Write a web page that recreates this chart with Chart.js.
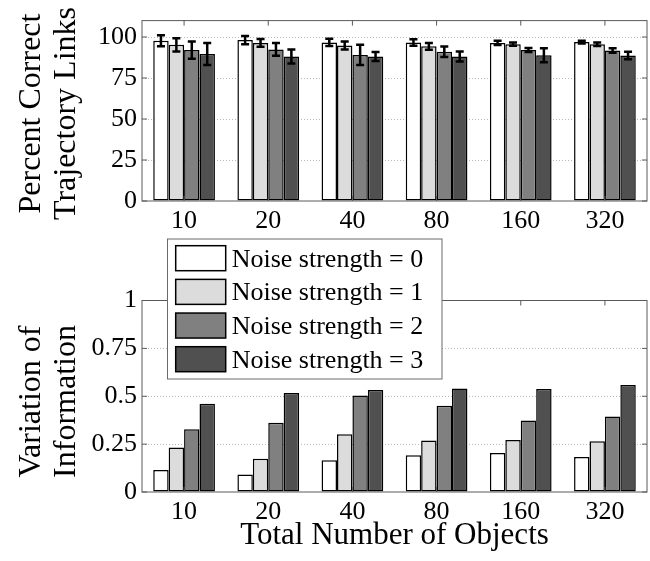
<!DOCTYPE html>
<html>
<head>
<meta charset="utf-8">
<script src="https://cdn.jsdelivr.net/npm/chart.js@4/dist/chart.umd.min.js"></script>
<style>
  html, body { margin: 0; padding: 0; background: #fff; }
  #wrap { position: relative; width: 650px; height: 561px; }
  #topCanvas { position: absolute; left: 0; top: 0; }
  #botCanvas { position: absolute; left: 0; top: 235px; }
</style>
</head>
<body>
<div id="wrap">
  <canvas id="topCanvas" width="650" height="235"></canvas>
  <canvas id="botCanvas" width="650" height="326"></canvas>
</div>
<script>
// ---- data ----
const categories = ['10', '20', '40', '80', '160', '320'];
const seriesLabels = ['Noise strength = 0', 'Noise strength = 1', 'Noise strength = 2', 'Noise strength = 3'];

// Percent correct trajectory links (mean) per noise level
const accuracy0 = [97.7, 98.1, 96.7, 96.7, 96.4, 96.9];
const accuracy1 = [95.2, 96.4, 94.8, 94.3, 95.6, 95.6];
const accuracy2 = [92.0, 92.4, 89.1, 91.0, 92.1, 91.8];
const accuracy3 = [89.7, 88.1, 88.1, 88.1, 88.9, 88.7];
// ... and the half-width of each error bar
const accuracyErr0 = [3.3, 2.5, 2.2, 2.0, 1.3, 0.8];
const accuracyErr1 = [4.0, 2.4, 2.4, 2.1, 1.0, 1.1];
const accuracyErr2 = [5.3, 3.9, 6.2, 3.2, 1.2, 1.4];
const accuracyErr3 = [6.7, 4.3, 2.8, 3.0, 4.3, 2.3];

// Variation of information per noise level
const vi0 = [0.115, 0.091, 0.166, 0.192, 0.204, 0.183];
const vi1 = [0.232, 0.173, 0.302, 0.269, 0.271, 0.265];
const vi2 = [0.328, 0.361, 0.504, 0.450, 0.373, 0.394];
const vi3 = [0.461, 0.517, 0.532, 0.541, 0.538, 0.559];

const accuracyTicks = [0, 25, 50, 75, 100];
const viTicks = [0, 0.25, 0.5, 0.75, 1];

const accuracyTitle = ['Percent Correct', 'Trajectory Links'];
const viTitle = ['Variation of', 'Information'];
const xTitle = 'Total Number of Objects';

// ---- styling ----
const FONT = '"Liberation Serif", "Times New Roman", serif';
const barFill = ['#ffffff', '#dcdcdc', '#808080', '#505050'];
const frameColor = '#5a5a5a';

function makeDatasets(valueSets, errorSets) {
  return valueSets.map((vals, k) => ({
    label: seriesLabels[k],
    data: vals,
    errorBars: errorSets ? errorSets[k] : null,
    backgroundColor: barFill[k],
    borderColor: '#000',
    borderWidth: 1.5,
    borderSkipped: false,
    categoryPercentage: 0.733,
    barPercentage: 1
  }));
}

// box around the plot area with inward tick marks on all four sides
const framePlugin = {
  id: 'frame',
  afterDatasetsDraw(chart) {
    const { ctx, chartArea: a, scales: { x, y } } = chart;
    const len = 5;
    ctx.save();
    ctx.strokeStyle = frameColor;
    ctx.lineWidth = 1;
    ctx.beginPath();
    x.ticks.forEach((t, i) => {
      const px = x.getPixelForTick(i);
      ctx.moveTo(px, a.top); ctx.lineTo(px, a.top + len);
      ctx.moveTo(px, a.bottom); ctx.lineTo(px, a.bottom - len);
    });
    y.ticks.forEach(t => {
      const py = y.getPixelForValue(t.value);
      ctx.moveTo(a.left, py); ctx.lineTo(a.left + len, py);
      ctx.moveTo(a.right, py); ctx.lineTo(a.right - len, py);
    });
    ctx.stroke();
    ctx.strokeRect(a.left, a.top, a.right - a.left, a.bottom - a.top);
    ctx.restore();
  }
};

// symmetric error bars on top of each bar
const errorBarPlugin = {
  id: 'errorBars',
  afterDatasetsDraw(chart) {
    const { ctx, scales: { y } } = chart;
    ctx.save();
    ctx.strokeStyle = '#000';
    ctx.lineWidth = 2.5;
    const cap = 4;
    chart.data.datasets.forEach((ds, d) => {
      if (!ds.errorBars) return;
      const meta = chart.getDatasetMeta(d);
      meta.data.forEach((bar, i) => {
        const v = ds.data[i], e = ds.errorBars[i];
        const y1 = y.getPixelForValue(v + e), y2 = y.getPixelForValue(v - e);
        ctx.beginPath();
        ctx.moveTo(bar.x, y1); ctx.lineTo(bar.x, y2);
        ctx.moveTo(bar.x - cap, y1); ctx.lineTo(bar.x + cap, y1);
        ctx.moveTo(bar.x - cap, y2); ctx.lineTo(bar.x + cap, y2);
        ctx.stroke();
      });
    });
    ctx.restore();
  }
};

// rotated two-line y-axis title
const yTitlePlugin = {
  id: 'yTitle',
  afterDraw(chart, args, o) {
    const ctx = chart.ctx;
    ctx.save();
    ctx.font = `${o.size}px ${FONT}`;
    ctx.fillStyle = '#000';
    ctx.textAlign = 'center';
    ctx.textBaseline = 'alphabetic';
    o.lines.forEach((line, i) => {
      ctx.save();
      ctx.translate(o.baselines[i], o.centerY);
      ctx.rotate(-Math.PI / 2);
      ctx.fillText(line, 0, 0);
      ctx.restore();
    });
    ctx.restore();
  }
};

// boxed legend listing the series
const boxLegendPlugin = {
  id: 'boxLegend',
  afterDraw(chart, args, o) {
    const ctx = chart.ctx;
    ctx.save();
    ctx.fillStyle = '#fff';
    ctx.fillRect(o.x, o.y, o.w, o.h);
    ctx.strokeStyle = '#6a6a6a';
    ctx.lineWidth = 1;
    ctx.strokeRect(o.x, o.y, o.w, o.h);
    ctx.font = `${o.size}px ${FONT}`;
    ctx.textAlign = 'left';
    ctx.textBaseline = 'alphabetic';
    chart.data.datasets.forEach((ds, k) => {
      const top = o.y + o.firstTop + k * o.step;
      ctx.fillStyle = ds.backgroundColor;
      ctx.fillRect(o.swX, top, o.swW, o.swH);
      ctx.strokeStyle = '#000';
      ctx.lineWidth = 1.5;
      ctx.strokeRect(o.swX, top, o.swW, o.swH);
      ctx.fillStyle = '#000';
      ctx.fillText(ds.label, o.textX, top + o.swH / 2 + 8.6);
    });
    ctx.restore();
  }
};

function scalesFor(cfg) {
  return {
    x: {
      type: 'category',
      offset: true,
      grid: { display: false, drawTicks: false },
      border: { display: false },
      ticks: { font: { family: FONT, size: 26 }, color: '#000', padding: 5, maxRotation: 0, autoSkip: false },
      title: cfg.xTitle
        ? { display: true, text: cfg.xTitle, color: '#000', font: { family: FONT, size: 31, lineHeight: 1.2 }, padding: { top: 0, bottom: 7 } }
        : { display: false },
      afterFit: s => { s.height = cfg.xHeight; }
    },
    y: {
      type: 'linear',
      min: 0,
      max: cfg.max,
      afterBuildTicks: s => { s.ticks = cfg.ticks.map(v => ({ value: v })); },
      grid: {
        drawTicks: false,
        lineWidth: 1,
        color: c => (c.tick && (c.tick.value === 0 || c.tick.value === cfg.max)) ? 'rgba(0,0,0,0)' : '#b8b8b8'
      },
      border: { display: false, dash: [1, 2] },
      ticks: { font: { family: FONT, size: 26 }, color: '#000', padding: 5, callback: v => String(v) },
      afterFit: s => { s.width = 142; }
    }
  };
}

const common = {
  responsive: false,
  animation: false,
  events: []
};

new Chart(document.getElementById('topCanvas'), {
  type: 'bar',
  data: {
    labels: categories,
    datasets: makeDatasets([accuracy0, accuracy1, accuracy2, accuracy3],
                           [accuracyErr0, accuracyErr1, accuracyErr2, accuracyErr3])
  },
  options: {
    ...common,
    layout: { padding: { top: 9, right: 3, left: 0, bottom: 0 } },
    scales: scalesFor({ max: 110, ticks: accuracyTicks, xHeight: 34 }),
    plugins: {
      legend: { display: false },
      tooltip: { enabled: false },
      yTitle: { lines: accuracyTitle, size: 32, baselines: [40, 75], centerY: 113.5 }
    }
  },
  plugins: [framePlugin, errorBarPlugin, yTitlePlugin]
});

new Chart(document.getElementById('botCanvas'), {
  type: 'bar',
  data: {
    labels: categories,
    datasets: makeDatasets([vi0, vi1, vi2, vi3], null)
  },
  options: {
    ...common,
    layout: { padding: { top: 65.5, right: 3, left: 0, bottom: 0 } },
    scales: scalesFor({ max: 1, ticks: viTicks, xHeight: 69, xTitle: xTitle }),
    plugins: {
      legend: { display: false },
      tooltip: { enabled: false },
      yTitle: { lines: viTitle, size: 32, baselines: [40, 75], centerY: 166.5 },
      boxLegend: { x: 167.5, y: 4, w: 274.5, h: 140, size: 26, swX: 175.7, swW: 50, swH: 25, firstTop: 6.7, step: 33.67, textX: 231.7 }
    }
  },
  plugins: [framePlugin, yTitlePlugin, boxLegendPlugin]
});
</script>
</body>
</html>
